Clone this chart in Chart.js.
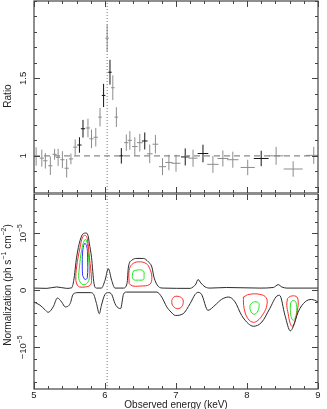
<!DOCTYPE html>
<html>
<head>
<meta charset="utf-8">
<script src="https://cdn.jsdelivr.net/npm/chart.js@4.4.0/dist/chart.umd.min.js"></script>
<style>
  body { margin: 0; background: #fff; }
  #wrap { position: relative; width: 327px; height: 409px; }
  canvas { position: absolute; left: 0; }
</style>
</head>
<body>
<div id="wrap">
  <canvas id="ratio" width="327" height="194" style="top:0"></canvas>
  <canvas id="norm" width="327" height="215" style="top:194px"></canvas>
</div>
<script>
// axis ranges and ticks
const energyRange = [5, 9];
const energyTicks = [5, 6, 7, 8, 9];
const ratioRange = [0.76, 2.0];
const ratioTicks = [1, 1.5];
const normRange = [-1.73, 1.69];     // units of 1e-5 ph/s/cm2
const normTicks = [-1, 0, 1];
const lineEnergy = 6.03;

// ratio spectrum, grey points: energy, ratio, error in ratio, half bin width
const greyE  = [5.03, 5.11, 5.16, 5.23, 5.29, 5.34, 5.40, 5.46, 5.52, 5.58, 5.76, 5.81, 5.87, 5.93, 6.03, 6.11, 6.16,
                6.30, 6.35, 6.42, 6.49, 6.63, 6.71, 6.81, 6.90, 7.00, 7.24, 7.52, 7.66, 7.80, 8.01, 8.41, 8.65, 8.94];
const greyR  = [0.996, 0.985, 0.968, 0.936, 1.01, 0.99, 0.975, 0.92, 0.98, 1.056, 1.18, 1.11, 1.12, 1.25, 1.76, 1.44, 1.25,
                1.085, 1.10, 1.06, 1.085, 1.013, 1.075, 0.93, 0.957, 0.952, 0.985, 0.945, 0.983, 0.975, 0.925, 1.00, 0.915, 1.003];
const greyDR = [0.06, 0.055, 0.05, 0.06, 0.035, 0.055, 0.055, 0.06, 0.035, 0.05, 0.06, 0.06, 0.06, 0.06, 0.087, 0.08, 0.064,
                0.053, 0.06, 0.06, 0.057, 0.06, 0.06, 0.055, 0.05, 0.055, 0.055, 0.055, 0.052, 0.052, 0.05, 0.058, 0.05, 0.055];
const greyDE = [0.03, 0.03, 0.03, 0.03, 0.03, 0.03, 0.03, 0.03, 0.03, 0.03, 0.03, 0.03, 0.03, 0.025, 0.025, 0.025, 0.025,
                0.03, 0.03, 0.04, 0.04, 0.04, 0.04, 0.05, 0.05, 0.063, 0.063, 0.08, 0.077, 0.08, 0.1, 0.105, 0.134, 0.11];

// ratio spectrum, black points
const blackE  = [5.64, 5.69, 5.98, 6.07, 6.23, 6.56, 7.13, 7.38, 8.20];
const blackR  = [1.07, 1.175, 1.39, 1.54, 1.00, 1.096, 0.993, 1.015, 0.983];
const blackDR = [0.05, 0.057, 0.075, 0.08, 0.05, 0.055, 0.055, 0.057, 0.05];
const blackDE = [0.03, 0.03, 0.025, 0.025, 0.03, 0.04, 0.06, 0.075, 0.105];

// normalization scan: outer black contours [energy, norm]
const upperCurve = [[5.00, 0.04], [5.18, 0.035], [5.32, 0.06], [5.46, 0.035], [5.53, 0.045], [5.56, 0.175], [5.60, 0.58],
  [5.65, 0.88], [5.69, 0.99], [5.73, 1.005], [5.76, 0.965], [5.78, 0.82], [5.81, 0.58], [5.845, 0.12], [5.88, 0.04],
  [5.95, 0.04], [6.00, 0.175], [6.047, 0.38], [6.094, 0.175], [6.14, 0.04], [6.26, 0.04], [6.31, 0.12], [6.33, 0.41],
  [6.38, 0.53], [6.45, 0.56], [6.54, 0.56], [6.61, 0.50], [6.66, 0.41], [6.69, 0.23], [6.75, 0.07], [6.82, 0.04],
  [7.20, 0.035], [7.24, 0.06], [7.28, 0.11], [7.31, 0.19], [7.35, 0.13], [7.41, 0.06], [7.48, 0.04], [7.71, 0.05],
  [8.18, 0.04], [8.37, 0.05], [8.44, 0.1], [8.49, 0.06], [8.56, 0.04], [9.00, 0.04]];
const lowerCurve = [[5.00, -0.205], [5.085, -0.26], [5.155, -0.34], [5.20, -0.385], [5.27, -0.29], [5.33, -0.135],
  [5.39, -0.205], [5.44, -0.29], [5.51, -0.23], [5.55, -0.07], [5.62, -0.04], [5.79, -0.04], [5.835, -0.06], [5.88, -0.23],
  [5.92, -0.41], [5.95, -0.26], [6.00, -0.07], [6.047, -0.04], [6.094, -0.07], [6.14, -0.23], [6.17, -0.29], [6.22, -0.32],
  [6.26, -0.07], [6.30, -0.03], [6.73, -0.03], [6.80, -0.12], [6.87, -0.29], [6.93, -0.38], [6.99, -0.44], [7.10, -0.41],
  [7.20, -0.23], [7.27, -0.07], [7.31, -0.035], [7.36, -0.07], [7.45, -0.35], [7.55, -0.26], [7.64, -0.16], [7.74, -0.117],
  [7.83, -0.2], [7.925, -0.44], [8.02, -0.585], [8.09, -0.63], [8.21, -0.555], [8.32, -0.32], [8.42, -0.1], [8.46, -0.087],
  [8.535, -0.44], [8.61, -0.71], [8.65, -0.64], [8.72, -0.38], [8.82, -0.2], [8.91, -0.16], [9.00, -0.2]];

// inner confidence contours (closed loops)
const redA = [[5.61, 0.09], [5.64, 0.06], [5.72, 0.06], [5.79, 0.09], [5.81, 0.175], [5.78, 0.58], [5.75, 0.91],
  [5.72, 0.965], [5.685, 0.935], [5.65, 0.76], [5.60, 0.41], [5.59, 0.175]];
const greenA = [[5.65, 0.146], [5.69, 0.10], [5.75, 0.128], [5.78, 0.233], [5.765, 0.64], [5.74, 0.88], [5.71, 0.88],
  [5.67, 0.70], [5.64, 0.41], [5.63, 0.205]];
const blueA = [[5.685, 0.26], [5.72, 0.19], [5.75, 0.22], [5.755, 0.58], [5.74, 0.79], [5.71, 0.82], [5.685, 0.67], [5.68, 0.41]];
const redB = [[6.34, 0.12], [6.34, 0.35], [6.38, 0.456], [6.47, 0.50], [6.58, 0.47], [6.63, 0.38], [6.66, 0.23],
  [6.63, 0.105], [6.49, 0.075], [6.38, 0.08]];
const greenB = [[6.40, 0.34], [6.47, 0.36], [6.54, 0.34], [6.55, 0.26], [6.54, 0.19], [6.47, 0.18], [6.40, 0.19], [6.385, 0.26]];
const redC = [[6.94, -0.175], [6.97, -0.117], [7.03, -0.105], [7.09, -0.146], [7.10, -0.233], [7.07, -0.30], [7.01, -0.32], [6.95, -0.26]];
const redD = [[7.95, -0.117], [8.03, -0.07], [8.18, -0.07], [8.27, -0.128], [8.28, -0.26], [8.23, -0.41], [8.14, -0.54],
  [8.07, -0.555], [8.00, -0.47], [7.96, -0.32], [7.95, -0.205]];
const greenD = [[8.04, -0.26], [8.09, -0.205], [8.16, -0.216], [8.17, -0.29], [8.145, -0.38], [8.10, -0.42], [8.05, -0.36]];
const redE = [[8.57, -0.146], [8.61, -0.105], [8.69, -0.105], [8.72, -0.175], [8.71, -0.35], [8.68, -0.526], [8.64, -0.63],
  [8.61, -0.585], [8.58, -0.41], [8.56, -0.26]];
const greenE = [[8.615, -0.22], [8.65, -0.175], [8.69, -0.216], [8.70, -0.35], [8.68, -0.48], [8.65, -0.526], [8.62, -0.456], [8.61, -0.32]];

const FONT = "'Liberation Sans', Arial, sans-serif";
const RED = '#ff2a2a', GREEN = '#1ee61e', BLUE = '#2a2aff', INK = '#2a2a2a';

// crosses: every error bar is a pair of short segments, broken by null points
function crosses(E, R, dR, dE) {
  const pts = [];
  E.forEach((e, i) => {
    pts.push({x: e - dE[i], y: R[i]}, {x: e + dE[i], y: R[i]}, {x: e, y: null});
    pts.push({x: e, y: R[i] - dR[i]}, {x: e, y: R[i] + dR[i]}, {x: e, y: null});
  });
  return pts;
}
const toXY = (arr, closed) => {
  const pts = arr.map(p => ({x: p[0], y: p[1]}));
  if (closed) pts.push({x: arr[0][0], y: arr[0][1]});
  return pts;
};
const seg = (data, color, extra) => Object.assign({
  data, borderColor: color, borderWidth: 1, pointRadius: 0, showLine: true, spanGaps: false, tension: 0
}, extra || {});

function line(ctx, x1, y1, x2, y2) {
  ctx.beginPath(); ctx.moveTo(x1, y1); ctx.lineTo(x2, y2); ctx.stroke();
}

// text with superscripts, optionally rotated
function richText(ctx, parts, cx, cy, rot, size) {
  ctx.save();
  ctx.translate(cx, cy);
  ctx.rotate(rot);
  ctx.fillStyle = '#222';
  ctx.textBaseline = 'middle';
  ctx.textAlign = 'left';
  let w = 0;
  parts.forEach(p => { ctx.font = (p[1] ? size * 0.7 : size) + 'px ' + FONT; w += ctx.measureText(p[0]).width; });
  let xx = -w / 2;
  parts.forEach(p => {
    ctx.font = (p[1] ? size * 0.7 : size) + 'px ' + FONT;
    ctx.fillText(p[0], xx, p[1] ? -size * 0.38 : 0);
    xx += ctx.measureText(p[0]).width;
  });
  ctx.restore();
}

// frame with inward ticks on all four sides
function drawFrame(chart, yMajor, yStep) {
  const {ctx, chartArea: a} = chart;
  const x = chart.scales.x, y = chart.scales.y;
  ctx.save();
  ctx.strokeStyle = '#444';
  ctx.lineWidth = 1.2;
  ctx.strokeRect(a.left, a.top, a.right - a.left, a.bottom - a.top);
  ctx.lineWidth = 1;
  for (let i = 0; i <= 20; i++) {
    const px = Math.round(x.getPixelForValue(energyRange[0] + i * 0.2)) + 0.5;
    const len = i % 5 === 0 ? 6 : 3;
    line(ctx, px, a.top, px, a.top + len);
    line(ctx, px, a.bottom, px, a.bottom - len);
  }
  const n0 = Math.ceil(y.min / yStep - 1e-6), n1 = Math.floor(y.max / yStep + 1e-6);
  for (let n = n0; n <= n1; n++) {
    const v = n * yStep;
    const py = Math.round(y.getPixelForValue(v)) + 0.5;
    const len = yMajor.some(m => Math.abs(m - v) < 1e-6) ? 6 : 3;
    line(ctx, a.left, py, a.left + len, py);
    line(ctx, a.right, py, a.right - len, py);
  }
  ctx.restore();
}

const baseOptions = (yr, padding) => ({
  responsive: false,
  animation: false,
  events: [],
  layout: {padding},
  plugins: {legend: {display: false}, tooltip: {enabled: false}},
  scales: {
    x: {type: 'linear', min: energyRange[0], max: energyRange[1], display: false},
    y: {type: 'linear', min: yr[0], max: yr[1], display: false}
  }
});

// ---------- ratio panel ----------
new Chart(document.getElementById('ratio'), {
  type: 'scatter',
  data: {
    datasets: [
      seg([{x: energyRange[0], y: 1}, {x: energyRange[1], y: 1}], '#8a8a8a', {borderDash: [6, 4], borderWidth: 1.4}),
      seg([{x: lineEnergy, y: ratioRange[0]}, {x: lineEnergy, y: ratioRange[1]}], '#777', {borderDash: [1, 2]}),
      seg(crosses(greyE, greyR, greyDR, greyDE), '#8c8c8c'),
      seg(crosses(blackE, blackR, blackDR, blackDE), '#151515')
    ]
  },
  options: baseOptions(ratioRange, {left: 34, right: 9, top: 1, bottom: 1}),
  plugins: [{
    id: 'ratioFrame',
    afterDraw(chart) {
      drawFrame(chart, ratioTicks, 0.1);
      const y = chart.scales.y;
      ratioTicks.forEach(v => richText(chart.ctx, [[String(v), false]], 23.5, y.getPixelForValue(v), -Math.PI / 2, 9.5));
      richText(chart.ctx, [['Ratio', false]], 8, 96, -Math.PI / 2, 10);
    }
  }]
});

// ---------- normalization panel ----------
const contour = (arr, color) => seg(toXY(arr, true), color, {tension: 0.4});
new Chart(document.getElementById('norm'), {
  type: 'scatter',
  data: {
    datasets: [
      seg([{x: lineEnergy, y: normRange[0]}, {x: lineEnergy, y: normRange[1]}], '#777', {borderDash: [1, 2]}),
      seg(toXY(upperCurve), INK, {cubicInterpolationMode: 'monotone'}),
      seg(toXY(lowerCurve), INK, {cubicInterpolationMode: 'monotone'}),
      contour(redA, RED), contour(greenA, GREEN), contour(blueA, BLUE),
      contour(redB, RED), contour(greenB, GREEN),
      contour(redC, RED),
      contour(redD, RED), contour(greenD, GREEN),
      contour(redE, RED), contour(greenE, GREEN)
    ]
  },
  options: baseOptions(normRange, {left: 34, right: 9, top: 0, bottom: 20}),
  plugins: [{
    id: 'normFrame',
    afterDraw(chart) {
      const ctx = chart.ctx, x = chart.scales.x, y = chart.scales.y, a = chart.chartArea;
      drawFrame(chart, normTicks, 0.2);
      const labels = {'-1': [['\u221210', false], ['\u22125', true]], '0': [['0', false]], '1': [['10', false], ['\u22125', true]]};
      normTicks.forEach(v => richText(ctx, labels[String(v)], 23.5, y.getPixelForValue(v), -Math.PI / 2, 9.5));
      energyTicks.forEach(v => richText(ctx, [[String(v), false]], x.getPixelForValue(v), a.bottom + 6, 0, 9.5));
      richText(ctx, [['Observed energy (keV)', false]], (a.left + a.right) / 2, a.bottom + 16, 0, 10);
      richText(ctx, [['Normalization (ph s', false], ['\u22121', true], [' cm', false], ['\u22122', true], [')', false]],
        8, 91, -Math.PI / 2, 10);
    }
  }]
});
</script>
</body>
</html>
